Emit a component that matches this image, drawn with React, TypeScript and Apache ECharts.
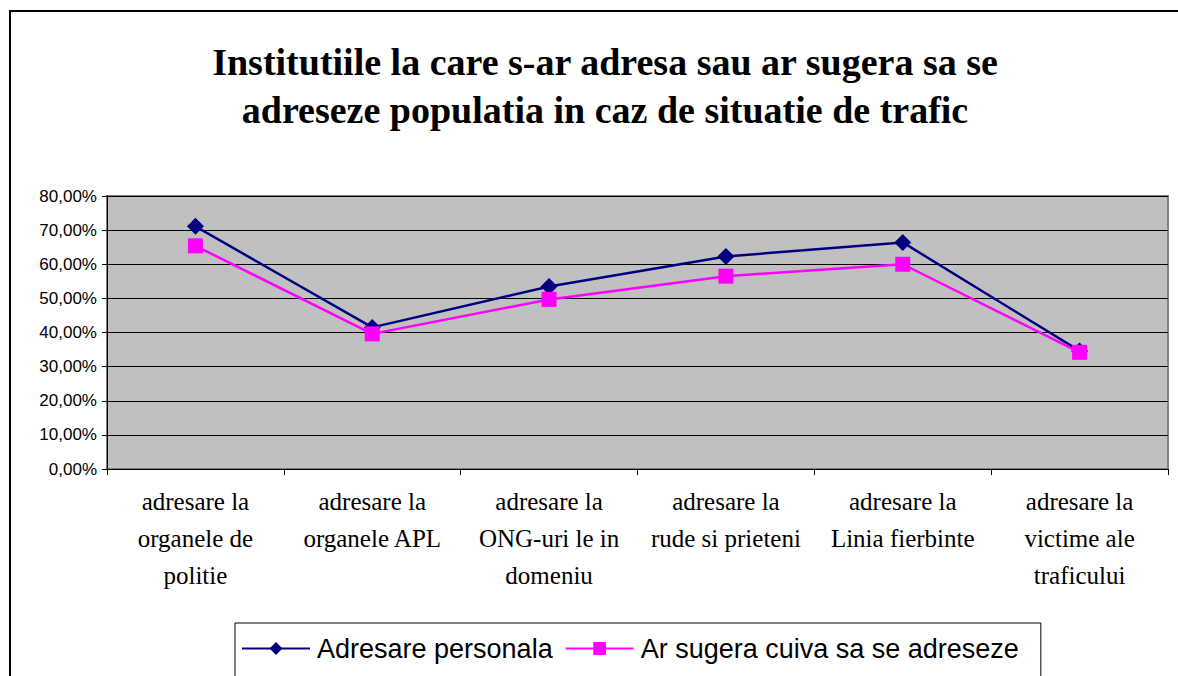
import React, { useEffect, useRef } from "react";
import * as echarts from "echarts";

const titleText = "Institutiile la care s-ar adresa sau ar sugera sa se\nadreseze populatia in caz de situatie de trafic";
const categories = [
  "adresare la\norganele de\npolitie",
  "adresare la\norganele APL",
  "adresare la\nONG-uri le in\ndomeniu",
  "adresare la\nrude si prieteni",
  "adresare la\nLinia fierbinte",
  "adresare la\nvictime ale\ntraficului",
];
const seriesNames = ["Adresare personala", "Ar sugera cuiva sa se adreseze"];
const personala = [71.1, 41.5, 53.5, 62.3, 66.4, 34.6];
const sugera = [65.4, 39.6, 49.7, 56.5, 60.0, 34.2];

const SERIF = "'Liberation Serif', 'Times New Roman', Times, serif";
const SANS = "'Liberation Sans', Arial, Helvetica, sans-serif";

export default function App() {
  const ref = useRef<HTMLDivElement>(null);
  useEffect(() => {
    if (!ref.current) return;
    const chart = echarts.init(ref.current, null, { renderer: "svg" });
    chart.setOption({
      animation: false,
      backgroundColor: "#ffffff",
      title: {
        text: titleText,
        left: 600,
        textAlign: "center",
        top: 33,
        textStyle: {
          fontFamily: SERIF,
          fontWeight: "bold",
          fontSize: 38,
          lineHeight: 48,
          color: "#000",
        },
      },
      graphic: [
        {
          type: "rect",
          shape: { x: 10, y: 11, width: 1200, height: 700 },
          style: { fill: "none", stroke: "#000", lineWidth: 2 },
          silent: true,
        },
      ],
      grid: {
        left: 107,
        right: 10,
        top: 196,
        bottom: 207,
        show: true,
        backgroundColor: "#C0C0C0",
        borderColor: "#808080",
        borderWidth: 2,
      },
      legend: {
        left: 235,
        top: 623,
        padding: [12, 22, 16, 6],
        borderColor: "#000",
        borderWidth: 1,
        itemWidth: 68,
        itemHeight: 16,
        itemGap: 12,
        textStyle: { fontFamily: SANS, fontSize: 27, color: "#000", padding: [0, 0, 0, 2] },
        data: seriesNames,
      },
      xAxis: {
        type: "category",
        data: categories,
        boundaryGap: true,
        axisLine: { show: true, lineStyle: { color: "#000", width: 1 } },
        axisTick: { show: true, length: 6, lineStyle: { color: "#000" } },
        axisLabel: {
          margin: 14,
          fontFamily: SERIF,
          fontSize: 25,
          lineHeight: 37,
          color: "#000",
          interval: 0,
        },
        splitLine: { show: false },
      },
      yAxis: {
        type: "value",
        min: 0,
        max: 80,
        interval: 10,
        axisLine: { show: true, lineStyle: { color: "#000", width: 1 } },
        axisTick: { show: true, length: 5, lineStyle: { color: "#000" } },
        axisLabel: {
          margin: 10,
          fontFamily: SANS,
          fontSize: 17,
          color: "#000",
          formatter: (v: number) => v.toFixed(2).replace(".", ",") + "%",
        },
        splitLine: { show: true, lineStyle: { color: "#000", width: 1 } },
      },
      series: [
        {
          name: seriesNames[0],
          type: "line",
          data: personala,
          symbol: "diamond",
          symbolSize: 17,
          lineStyle: { color: "#000080", width: 2.5 },
          itemStyle: { color: "#000080" },
          z: 3,
        },
        {
          name: seriesNames[1],
          type: "line",
          data: sugera,
          symbol: "rect",
          symbolSize: 15,
          lineStyle: { color: "#FF00FF", width: 2.5 },
          itemStyle: { color: "#FF00FF" },
          z: 4,
        },
      ],
    });
    return () => chart.dispose();
  }, []);
  return (
    <div
      ref={ref}
      style={{ position: "fixed", left: 0, top: 0, width: 1178, height: 676 }}
    />
  );
}
